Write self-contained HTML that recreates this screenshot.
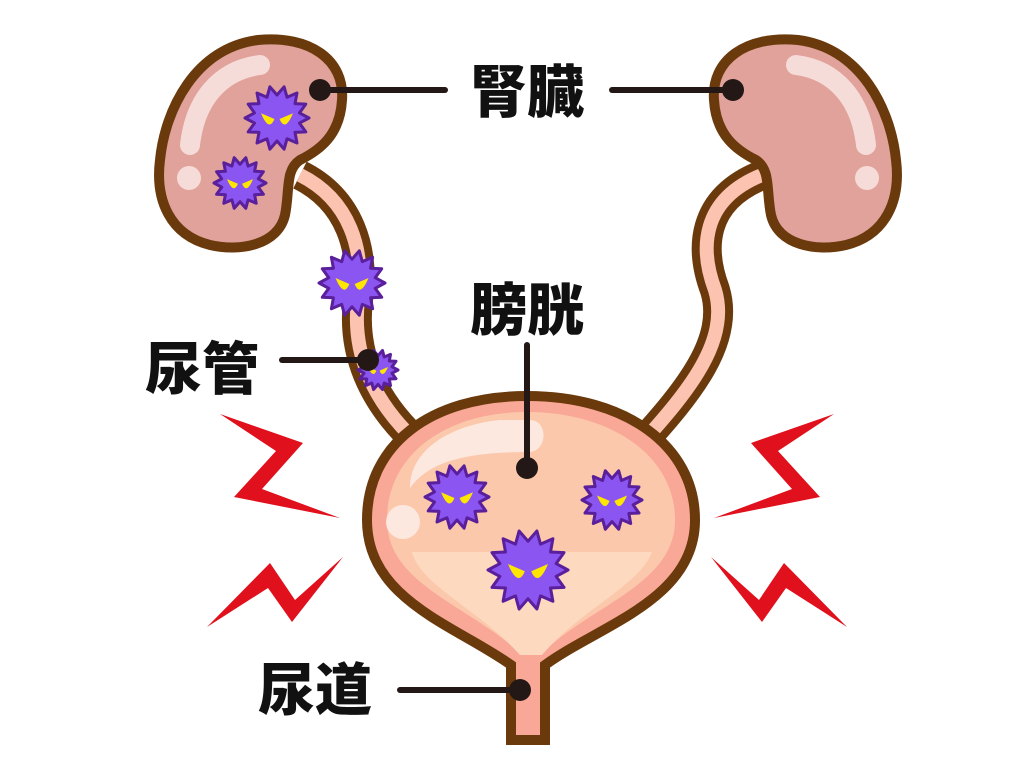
<!DOCTYPE html>
<html><head><meta charset="utf-8"><style>
html,body{margin:0;padding:0;background:#fff;}
svg{display:block}
.t{font-family:"Liberation Sans","Noto Sans CJK JP",sans-serif;font-weight:900;font-size:57px;fill:#111;}
</style></head><body>
<svg id="s" width="1024" height="768" viewBox="0 0 1024 768" xmlns="http://www.w3.org/2000/svg">
<g fill="none" stroke-linecap="butt">
<path d="M300 175 C350 200 365 250 358 300 C352 350 370 400 420 445" stroke="#6b3a0c" stroke-width="30"/>
<path d="M300 175 C350 200 365 250 358 300 C352 350 370 400 420 445" stroke="#fbc3b0" stroke-width="14"/>
<path d="M762 175 C700 200 700 250 715 290 C730 340 690 390 640 445" stroke="#6b3a0c" stroke-width="30"/>
<path d="M762 175 C700 200 700 250 715 290 C730 340 690 390 640 445" stroke="#fbc3b0" stroke-width="14"/>
</g>
<g id="kid">
<path d="M258 40 C310 35 345 60 342 100 C340 135 320 150 300 160 C285 170 290 190 285 215 C278 245 240 252 210 245 C170 235 155 200 160 160 C165 110 195 48 258 40 Z" fill="#e0a29a" stroke="#6b3a0c" stroke-width="10"/>
<path d="M190 145 C195 100 220 70 260 65" stroke="#f6dcd8" stroke-width="20" stroke-linecap="round" fill="none"/>
<circle cx="189" cy="178" r="12" fill="#f6dcd8"/>
</g>
<use href="#kid" transform="translate(1056 0) scale(-1 1)"/>
<path d="M527 396 C625 396 695 445 695 520 C695 600 600 625 545 665 L545 740 L511 740 L511 665 C455 625 367 600 367 520 C367 445 430 396 527 396 Z" fill="#f9a898" stroke="#6b3a0c" stroke-width="10"/>
<path d="M527 412 C610 412 675 455 675 520 C675 585 590 605 540 655 L522 655 C470 605 387 585 387 520 C387 455 445 412 527 412 Z" fill="#fcc8ab"/>
<path d="M412 552 L652 552 C640 585 580 610 542 655 L520 655 C480 610 420 585 412 552 Z" fill="#fdd9bf"/>
<path d="M410 488 C410 450 450 425 500 420 L530 420 C548 420 548 450 530 452 C470 452 430 460 410 488 Z" fill="#fde8e0"/>
<circle cx="403" cy="522" r="17" fill="#fde8e0"/>
<g fill="#e0101c">
<polygon points="220,414 303,443 262,489 340,518 234,497 276,451"/>
<polygon points="207,627 270,563 295,600 343,557 292,622 268,588"/>
<polygon points="834,414 751,443 792,489 714,518 820,497 778,451"/>
<polygon points="847,627 784,563 759,600 711,557 762,622 786,588"/>
</g>
<g id="bac"></g>
<g stroke="#231815" stroke-width="6" stroke-linecap="round" fill="#231815">
<line x1="320" y1="90" x2="445" y2="90"/><circle cx="320" cy="90" r="11" stroke="none"/>
<line x1="612" y1="90" x2="733" y2="90"/><circle cx="733" cy="90" r="11" stroke="none"/>
<line x1="527" y1="345" x2="527" y2="468"/><circle cx="527" cy="468" r="11" stroke="none"/>
<line x1="282" y1="360" x2="368" y2="360"/><circle cx="368" cy="360" r="11" stroke="none"/>
<line x1="400" y1="690" x2="520" y2="690"/><circle cx="520" cy="690" r="11" stroke="none"/>
</g>
<text class="t" x="470" y="112">腎臓</text>
<text class="t" x="470" y="330">膀胱</text>
<text class="t" x="145" y="389">尿管</text>
<text class="t" x="258" y="710">尿道</text>
</svg>
<script>
var b=[[277,118,32],[240,183,26],[352,283,33],[378,370,20],[457,497,32],[612,500,30],[528,570,40]];
var g=document.getElementById('bac'),h='';
b.forEach(function(a){var x=a[0],y=a[1],r=a[2],p=[];for(var i=0;i<28;i++){var rr=i%2?r*0.72:r,an=i*Math.PI/14;p.push((x+rr*Math.cos(an)).toFixed(1)+','+(y+rr*Math.sin(an)).toFixed(1));}
h+='<polygon points="'+p.join(' ')+'" fill="#8a55f0" stroke="#5a1f9a" stroke-width="3" stroke-linejoin="round"/>';
var e=r*0.3;h+='<path d="M'+(x-r*0.5)+' '+(y-e*0.5)+' L'+(x-r*0.08)+' '+(y+e*0.1)+' Q'+(x-r*0.25)+' '+(y+e*1.5)+' '+(x-r*0.5)+' '+(y-e*0.5)+'Z" fill="#ffe600"/>';
h+='<path d="M'+(x+r*0.5)+' '+(y-e*0.5)+' L'+(x+r*0.08)+' '+(y+e*0.1)+' Q'+(x+r*0.25)+' '+(y+e*1.5)+' '+(x+r*0.5)+' '+(y-e*0.5)+'Z" fill="#ffe600"/>';});
g.innerHTML=h;
</script>
</body></html>
